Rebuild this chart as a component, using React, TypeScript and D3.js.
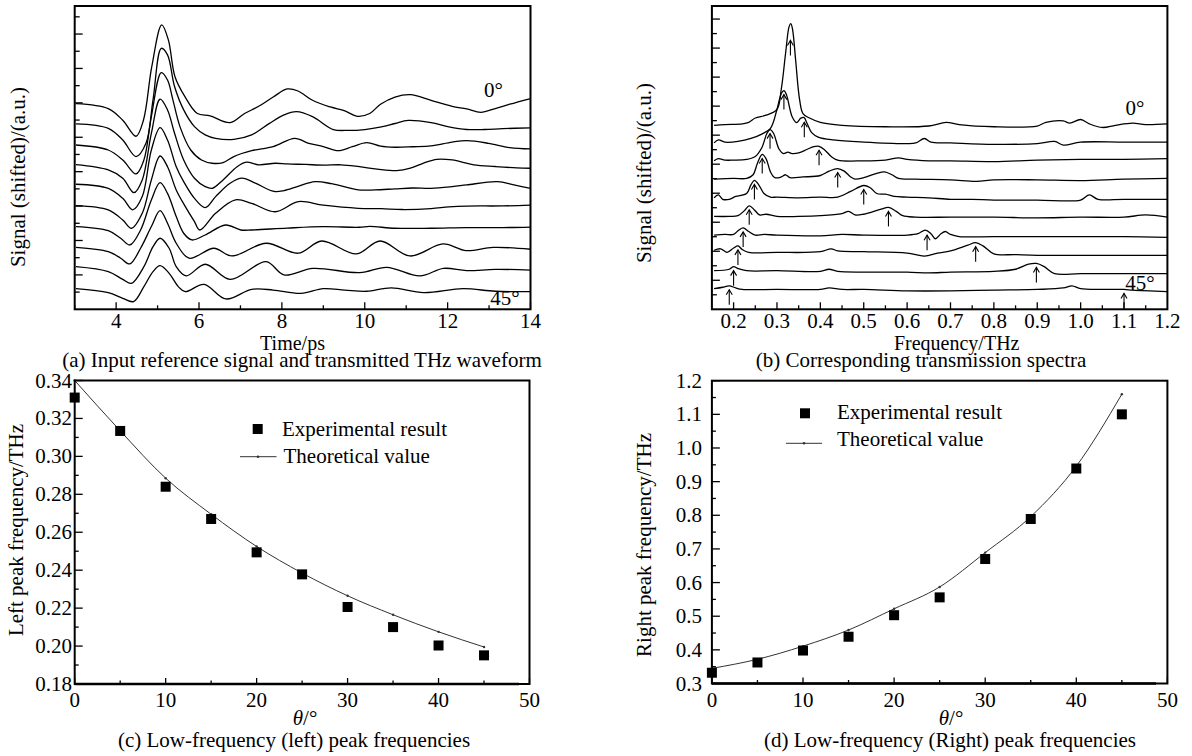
import React from 'react';
import * as d3 from 'd3';

const FONT = '"Liberation Serif", "Times New Roman", Times, serif';
const FS = 21;

// ---------- Panel (a): time-domain waveforms [t (ps), signal (a.u., shifted)] ----------
const angleLabels = ['0°', '5°', '10°', '15°', '20°', '25°', '30°', '35°', '40°', '45°'];
const waveform0 = [[3.03,11.96],[3.81,11.67],[4.16,10.99],[4.48,10.06],[4.66,11.0],[4.86,14.1],[5.10,16.53],[5.26,15.66],[5.42,13.52],[5.66,12.36],[5.95,11.40],[6.27,11.24],[6.75,10.85],[7.10,11.38],[7.44,11.80],[7.79,12.34],[8.13,12.81],[8.39,12.69],[8.74,12.15],[9.17,11.76],[9.52,11.53],[9.82,11.22],[10.12,11.38],[10.38,11.92],[10.73,12.34],[11.10,12.48],[11.60,12.15],[12.11,11.80],[12.46,11.65],[12.80,11.45],[13.15,11.67],[13.50,11.92],[14.0,12.25]];
const waveform5 = [[3.03,10.78],[3.81,10.52],[4.16,9.84],[4.48,8.88],[4.72,9.65],[4.89,12.17],[5.09,15.17],[5.24,14.79],[5.41,12.95],[5.63,11.59],[5.89,10.62],[6.15,10.14],[6.40,9.94],[6.84,9.88],[7.27,10.14],[7.70,10.81],[8.05,11.30],[8.35,11.49],[8.74,11.20],[9.24,10.45],[9.60,10.40],[10.0,10.45],[10.40,10.6],[10.73,10.80],[11.05,10.98],[11.60,10.85],[12.03,10.6],[12.46,10.45],[12.89,10.45],[13.33,10.5],[14.0,10.55]];
const waveform10 = [[3.03,9.55],[3.81,9.26],[4.16,8.68],[4.48,7.87],[4.67,8.68],[4.85,11.20],[5.09,13.76],[5.24,13.33],[5.37,12.17],[5.54,10.62],[5.80,9.26],[6.06,8.68],[6.32,8.49],[6.58,8.53],[6.84,8.88],[7.27,9.22],[7.79,9.46],[8.31,9.94],[8.65,9.65],[9.00,9.46],[9.36,9.22],[9.70,9.45],[10.05,9.69],[10.38,9.48],[10.73,9.42],[11.16,9.45],[11.60,9.50],[12.11,9.72],[12.46,9.80],[12.98,9.65],[13.50,9.40],[14.0,9.32]];
const waveform15 = [[3.03,8.41],[3.81,8.10],[4.16,7.62],[4.43,6.78],[4.63,7.52],[4.85,10.23],[5.06,12.21],[5.24,11.59],[5.41,10.23],[5.63,8.68],[5.89,7.62],[6.15,7.13],[6.32,7.03],[6.58,7.52],[6.92,8.29],[7.14,8.55],[7.44,8.40],[7.84,8.49],[8.13,8.45],[8.57,8.42],[9.00,8.38],[9.43,8.40],[9.87,8.29],[10.30,8.15],[10.77,8.06],[11.10,8.20],[11.42,8.50],[11.74,8.72],[12.11,8.68],[12.63,8.40],[13.15,8.30],[13.67,8.22],[14.0,8.2]];
const waveform20 = [[3.03,7.27],[3.81,7.03],[4.16,6.45],[4.40,5.78],[4.63,6.55],[4.85,9.26],[5.06,10.56],[5.24,9.84],[5.45,8.29],[5.63,7.42],[5.89,6.45],[6.15,5.91],[6.40,6.55],[6.75,7.33],[7.04,7.62],[7.36,7.33],[7.81,6.85],[8.05,6.90],[8.39,7.15],[8.80,7.42],[9.20,7.30],[9.84,6.94],[10.25,6.94],[10.73,7.0],[11.16,7.05],[11.60,7.03],[12.11,7.13],[12.46,7.23],[13.20,7.42],[13.60,7.23],[14.0,7.03]];
const waveform25 = [[3.03,6.03],[3.81,5.78],[4.16,5.19],[4.37,4.71],[4.63,5.58],[4.85,7.52],[5.06,8.91],[5.24,8.29],[5.45,6.94],[5.67,5.97],[5.89,5.10],[6.02,4.61],[6.40,5.58],[6.88,6.36],[7.27,6.16],[7.84,5.67],[8.40,6.26],[9.00,6.05],[9.84,5.87],[10.40,5.85],[10.90,5.80],[11.60,5.85],[12.03,5.95],[12.46,6.0],[13.33,6.01],[14.0,6.06]];
const waveform30 = [[3.03,4.81],[3.81,4.57],[4.11,4.13],[4.33,3.74],[4.59,4.61],[4.85,6.36],[5.06,7.36],[5.24,6.74],[5.45,5.39],[5.63,4.42],[5.83,4.03],[6.15,4.32],[6.64,4.90],[7.01,4.61],[7.27,4.61],[8.13,4.72],[9.00,4.80],[9.87,4.77],[10.12,4.82],[10.73,4.71],[11.60,4.71],[12.46,4.75],[13.33,4.75],[14.0,4.78]];
const waveform35 = [[3.03,3.60],[3.81,3.35],[4.11,2.97],[4.33,2.64],[4.59,3.55],[4.85,4.81],[5.06,5.74],[5.24,5.00],[5.45,3.84],[5.76,2.97],[6.36,3.55],[6.79,3.10],[7.62,3.84],[8.39,3.26],[8.96,3.97],[9.80,3.22],[10.37,3.97],[11.09,3.10],[11.89,3.80],[12.45,3.41],[13.10,3.60],[14.0,3.49]];
const waveform40 = [[3.03,2.48],[3.81,2.19],[4.16,1.74],[4.37,1.51],[4.67,2.48],[4.89,3.64],[5.06,4.13],[5.28,3.55],[5.45,2.48],[5.69,1.94],[6.15,2.62],[6.75,1.74],[7.62,2.77],[8.05,2.0],[8.75,2.38],[9.88,2.13],[10.53,2.44],[11.33,1.94],[11.90,2.38],[12.46,2.25],[13.15,2.32],[14.0,2.28]];
const waveform45 = [[3.03,1.20],[3.81,0.97],[4.16,0.64],[4.42,0.45],[4.67,1.32],[4.89,2.19],[5.06,2.54],[5.28,2.09],[5.50,1.32],[5.67,1.03],[6.12,1.45],[6.65,0.60],[7.27,1.16],[7.79,1.12],[8.46,0.93],[9.0,1.20],[9.52,1.12],[10.04,1.05],[10.64,1.25],[11.42,0.97],[12.37,1.20],[13.15,1.05],[14.0,1.03]];
const waveforms = [waveform0, waveform5, waveform10, waveform15, waveform20, waveform25, waveform30, waveform35, waveform40, waveform45];
const timeTickLabels = [4, 6, 8, 10, 12, 14];

// ---------- Panel (b): spectra [f (THz), height above baseline (a.u.)] ----------
const spectrumBaselines = [12.68, 11.47, 10.23, 8.97, 7.68, 6.40, 5.11, 3.97, 2.66, 1.42];
const spectrum0 = [[0.155,0],[0.18,0.05],[0.22,0.1],[0.235,0.2],[0.25,0.5],[0.275,0.7],[0.3,1.1],[0.31,2.5],[0.32,5.0],[0.328,6.8],[0.332,7.0],[0.336,6.6],[0.343,4.5],[0.352,1.8],[0.36,0.8],[0.375,0.5],[0.4,0.2],[0.45,0.0],[0.55,-0.1],[0.65,-0.05],[0.69,0.2],[0.72,0.05],[0.8,-0.1],[0.9,-0.05],[0.92,0.2],[0.96,0.3],[0.975,0.15],[1.0,0.4],[1.02,0.1],[1.05,-0.15],[1.08,0.0],[1.12,0.15],[1.15,0.05],[1.2,0.1]];
const spectrum5 = [[0.155,0],[0.165,0.2],[0.18,0.05],[0.21,0.1],[0.24,0.3],[0.265,0.6],[0.285,1.0],[0.3,2.3],[0.31,3.4],[0.316,3.6],[0.322,3.3],[0.335,1.8],[0.345,1.4],[0.355,1.7],[0.362,1.75],[0.37,1.3],[0.38,0.7],[0.395,0.4],[0.43,0.2],[0.5,0.05],[0.6,-0.05],[0.62,0.0],[0.64,0.3],[0.655,0.05],[0.7,0.0],[0.8,-0.1],[0.9,-0.05],[0.94,0.1],[0.96,-0.15],[1.0,0.05],[1.1,0.05],[1.2,0.05]];
const spectrum10 = [[0.155,0],[0.165,0.15],[0.18,0.05],[0.2,0.05],[0.23,0.1],[0.25,0.3],[0.265,0.9],[0.277,1.9],[0.284,2.15],[0.292,1.9],[0.305,0.8],[0.315,0.5],[0.325,0.6],[0.335,0.5],[0.35,0.55],[0.37,0.8],[0.385,0.98],[0.397,1.0],[0.41,0.75],[0.425,0.3],[0.44,0.05],[0.5,0.0],[0.55,0.05],[0.58,0.2],[0.6,0.1],[0.65,0.0],[0.7,0.0],[0.8,-0.05],[0.9,0.05],[1.0,0.1],[1.1,0.1],[1.2,0.15]];
const spectrum15 = [[0.155,0],[0.2,0.05],[0.23,0.05],[0.245,0.3],[0.255,1.1],[0.266,1.7],[0.275,1.4],[0.285,0.5],[0.295,0.1],[0.31,0.15],[0.32,0.3],[0.33,0.1],[0.36,0.15],[0.4,0.25],[0.42,0.55],[0.44,0.73],[0.455,0.55],[0.47,0.15],[0.48,0.0],[0.5,0.1],[0.53,0.4],[0.548,0.5],[0.565,0.3],[0.58,0.05],[0.62,0.0],[0.7,-0.05],[0.76,-0.15],[0.8,-0.05],[0.9,-0.05],[1.0,-0.1],[1.1,0.0],[1.2,0.05]];
const spectrum20 = [[0.155,0],[0.165,0.2],[0.175,-0.1],[0.19,-0.1],[0.205,0.1],[0.23,0.3],[0.24,0.9],[0.248,1.2],[0.258,0.9],[0.27,0.3],[0.285,0.05],[0.3,0.05],[0.35,0.0],[0.4,0.05],[0.44,0.05],[0.47,0.45],[0.5,0.85],[0.515,0.7],[0.53,0.3],[0.55,0.25],[0.57,0.1],[0.6,0.05],[0.65,0.0],[0.7,-0.1],[0.75,-0.1],[0.8,-0.15],[0.9,-0.15],[1.0,-0.15],[1.02,0.2],[1.04,-0.1],[1.1,-0.1],[1.2,-0.1]];
const spectrum25 = [[0.155,0],[0.19,0.0],[0.21,0.05],[0.225,0.4],[0.236,0.73],[0.248,0.45],[0.26,0.1],[0.275,0.15],[0.3,0.0],[0.35,0.0],[0.4,0.05],[0.45,0.2],[0.465,0.35],[0.48,0.1],[0.5,0.15],[0.54,0.5],[0.557,0.62],[0.575,0.35],[0.59,0.05],[0.62,-0.05],[0.7,-0.05],[0.8,-0.05],[0.9,-0.1],[1.0,-0.05],[1.1,-0.05],[1.15,0.1],[1.2,-0.05]];
const spectrum30 = [[0.155,0],[0.18,0.05],[0.2,0.05],[0.212,0.35],[0.222,0.5],[0.235,0.25],[0.25,0.0],[0.27,0.05],[0.3,0.0],[0.4,-0.05],[0.45,0.05],[0.5,0.0],[0.6,0.0],[0.625,0.1],[0.642,0.35],[0.655,0.1],[0.665,-0.25],[0.678,0.1],[0.688,0.25],[0.7,0.05],[0.72,-0.1],[0.8,-0.1],[0.9,-0.1],[1.0,-0.1],[1.1,-0.1],[1.2,-0.15]];
const spectrum35 = [[0.155,0.1],[0.17,0.2],[0.185,-0.05],[0.2,0.25],[0.21,0.4],[0.22,0.15],[0.235,-0.05],[0.3,-0.05],[0.4,0.0],[0.425,0.2],[0.44,0.05],[0.5,0.0],[0.6,-0.1],[0.64,-0.3],[0.67,-0.1],[0.7,0.05],[0.74,0.45],[0.758,0.62],[0.775,0.4],[0.8,-0.15],[0.85,-0.2],[0.9,-0.25],[1.0,-0.25],[1.1,-0.25],[1.2,-0.25]];
const spectrum40 = [[0.155,0],[0.19,0.1],[0.2,0.28],[0.21,0.15],[0.23,0.0],[0.3,0.0],[0.4,-0.05],[0.42,0.1],[0.44,-0.05],[0.5,-0.1],[0.6,-0.1],[0.65,-0.15],[0.7,-0.1],[0.8,-0.05],[0.85,0.1],[0.88,0.45],[0.898,0.5],[0.915,0.3],[0.94,-0.2],[1.0,-0.2],[1.1,-0.2],[1.2,-0.2]];
const spectrum45 = [[0.155,0],[0.175,0.1],[0.19,0.2],[0.205,0.05],[0.22,-0.05],[0.3,-0.05],[0.4,-0.05],[0.42,0.05],[0.45,-0.05],[0.5,-0.05],[0.6,-0.15],[0.7,-0.15],[0.8,-0.1],[0.9,-0.05],[0.96,0.05],[0.98,0.2],[1.0,0.0],[1.05,-0.05],[1.1,-0.05],[1.12,-0.1],[1.2,-0.2]];
const spectra = [spectrum0, spectrum5, spectrum10, spectrum15, spectrum20, spectrum25, spectrum30, spectrum35, spectrum40, spectrum45];
const leftPeakArrows = [0.331, 0.316, 0.284, 0.266, 0.248, 0.236, 0.222, 0.21, 0.2, 0.19];
const rightPeakArrows = [null, 0.363, 0.397, 0.44, 0.5, 0.557, 0.646, 0.758, 0.898, 1.1];
const freqTickLabels = ['0.2', '0.3', '0.4', '0.5', '0.6', '0.7', '0.8', '0.9', '1.0', '1.1', '1.2'];

// ---------- Panels (c), (d) ----------
const thetaValues = [0, 5, 10, 15, 20, 25, 30, 35, 40, 45];
const leftPeakExperimental = [0.331, 0.3134, 0.284, 0.267, 0.2494, 0.2378, 0.2206, 0.21, 0.2003, 0.1951];
const leftPeakTheoretical = [0.340, 0.3135, 0.2885, 0.2695, 0.2525, 0.2385, 0.2265, 0.2165, 0.2075, 0.1995];
const rightPeakExperimental = [0.332, 0.3625, 0.398, 0.439, 0.503, 0.556, 0.670, 0.789, 0.939, 1.100];
const rightPeakTheoretical = [0.345, 0.372, 0.411, 0.459, 0.522, 0.587, 0.689, 0.796, 0.946, 1.160];
const thetaTickLabels = [0, 10, 20, 30, 40, 50];
const leftTickLabels = ['0.18', '0.20', '0.22', '0.24', '0.26', '0.28', '0.30', '0.32', '0.34'];
const rightTickLabels = ['0.3', '0.4', '0.5', '0.6', '0.7', '0.8', '0.9', '1.0', '1.1', '1.2'];

const T = (p: any) => <text fontFamily={FONT} fontSize={FS} fill="#000" {...p} />;

function interp(pts: number[][], f: number) {
  for (let i = 0; i < pts.length - 1; i++) {
    if (f >= pts[i][0] && f <= pts[i + 1][0]) {
      const k = (f - pts[i][0]) / (pts[i + 1][0] - pts[i][0]);
      return pts[i][1] + k * (pts[i + 1][1] - pts[i][1]);
    }
  }
  return pts[pts.length - 1][1];
}

function Arrow({ x, y }: { x: number; y: number }) {
  return (
    <g stroke="#000" strokeWidth={1.1} fill="none">
      <line x1={x} y1={y} x2={x} y2={y + 15} />
      <path d={`M${x - 3},${y + 5} L${x},${y} L${x + 3},${y + 5}`} />
    </g>
  );
}

export default function App() {
  // Panel (a)
  const ax = d3.scaleLinear().domain([3, 14]).range([74.7, 530.5]);
  const ay = d3.scaleLinear().domain([0, 17.63]).range([309.3, 6]);
  const aLine = d3.line<number[]>().x(d => ax(d[0])).y(d => ay(d[1])).curve(d3.curveCatmullRom.alpha(0.5));

  // Panel (b)
  const bx = d3.scaleLinear().domain([0.15, 1.2]).range([711.9, 1167.4]);
  const by = d3.scaleLinear().domain([0, 20.9]).range([309.3, 6]);

  // Panel (c)
  const cx = d3.scaleLinear().domain([0, 50]).range([74.7, 529.5]);
  const cy = d3.scaleLinear().domain([0.18, 0.34]).range([684, 380.5]);
  // Panel (d)
  const dx = d3.scaleLinear().domain([0, 50]).range([711.9, 1167.4]);
  const dy = d3.scaleLinear().domain([0.3, 1.2]).range([683.5, 380.7]);

  const frame = (x0: number, x1: number, y0: number, y1: number) => (
    <rect x={x0} y={y0} width={x1 - x0} height={y1 - y0} fill="none" stroke="#000" strokeWidth={2} />
  );

  const theoryLine = (xs: any, ys: any, vals: number[]) =>
    d3.line<number>().x((_, i) => xs(thetaValues[i])).y(d => ys(d)).curve(d3.curveMonotoneX)(vals) as string;

  return (
    <svg width={1192} height={756} style={{ position: 'absolute', left: 0, top: 0, background: '#fff' }}>
      <rect x={0} y={0} width={1192} height={756} fill="#fff" />

      {/* ===== Panel (a) ===== */}
      <g>
        {d3.range(3, 14.01, 1).map(v => (
          <line key={'axt' + v} x1={ax(v)} x2={ax(v)} y1={309.3} y2={309.3 - (v % 2 === 0 ? 7 : 4)} stroke="#000" strokeWidth={1.3} />
        ))}
        {d3.range(1, 18, 1).map(v => (
          <line key={'ayt' + v} x1={74.7} x2={74.7 + (v % 2 === 0 ? 8 : 5)} y1={ay(v)} y2={ay(v)} stroke="#000" strokeWidth={1.3} />
        ))}
        {waveforms.map((w, i) => (
          <path key={'wf' + i} d={aLine(w) as string} fill="none" stroke="#000" strokeWidth={1.3} />
        ))}
        {frame(74.7, 530.5, 6, 309.3)}
        {timeTickLabels.map(v => (
          <T key={'atl' + v} x={ax(v)} y={328} textAnchor="middle">{v}</T>
        ))}
        <T x={493.5} y={97} textAnchor="middle">{angleLabels[0]}</T>
        <T x={505} y={305} textAnchor="middle">{angleLabels[9]}</T>
        <T x={292.5} y={349.5} textAnchor="middle" fontSize={20}>Time/ps</T>
        <T transform="translate(25,177) rotate(-90)" textAnchor="middle">Signal (shifted)/(a.u.)</T>
        <T x={302} y={367} textAnchor="middle">(a) Input reference signal and transmitted THz waveform</T>
      </g>

      {/* ===== Panel (b) ===== */}
      <g>
        {d3.range(0, 21, 1).map(i => {
          const v = 0.15 + i * 0.05;
          if (v > 1.2001 || i === 0) return null;
          const major = i % 2 === 1;
          return <line key={'bxt' + i} x1={bx(v)} x2={bx(v)} y1={309.3} y2={309.3 - (major ? 7 : 4)} stroke="#000" strokeWidth={1.3} />;
        })}
        {d3.range(1, 21, 1).map(v => (
          <line key={'byt' + v} x1={711.9} x2={711.9 + (v % 2 === 0 ? 8 : 5)} y1={by(v)} y2={by(v)} stroke="#000" strokeWidth={1.3} />
        ))}
        {spectra.map((s, i) => {
          const base = spectrumBaselines[i];
          const l = d3.line<number[]>().x(d => bx(d[0])).y(d => by(base + d[1])).curve(d3.curveCatmullRom.alpha(0.5));
          return <path key={'sp' + i} d={l(s) as string} fill="none" stroke="#000" strokeWidth={1.3} />;
        })}
        {leftPeakArrows.map((f, i) => {
          const dv = interp(spectra[i], f);
          const y = by(spectrumBaselines[i] + dv) + (dv > 5 ? 16 : 4);
          return <Arrow key={'la' + i} x={bx(f)} y={y} />;
        })}
        {rightPeakArrows.map((f, i) => {
          if (f === null) return null;
          const dv = interp(spectra[i], f);
          const y = by(spectrumBaselines[i] + dv) + 4;
          return <Arrow key={'ra' + i} x={bx(f)} y={y} />;
        })}
        {frame(711.9, 1167.4, 6, 309.3)}
        {freqTickLabels.map(v => (
          <T key={'btl' + v} x={bx(+v)} y={328} textAnchor="middle">{v}</T>
        ))}
        <T x={1135} y={115} textAnchor="middle">{angleLabels[0]}</T>
        <T x={1140} y={290} textAnchor="middle">{angleLabels[9]}</T>
        <T x={956.7} y={349.5} textAnchor="middle" fontSize={20}>Frequency/THz</T>
        <T transform="translate(651,173) rotate(-90)" textAnchor="middle">Signal (shifted)/(a.u.)</T>
        <T x={921} y={367} textAnchor="middle">(b) Corresponding transmission spectra</T>
      </g>

      {/* ===== Panel (c) ===== */}
      <g>
        {d3.range(0, 50.01, 5).map(v => (
          <line key={'cxt' + v} x1={cx(v)} x2={cx(v)} y1={684} y2={684 - (v % 10 === 0 ? 6 : 3.5)} stroke="#000" strokeWidth={1.3} />
        ))}
        {d3.range(0, 17, 1).map(i => {
          const v = 0.18 + i * 0.01;
          return <line key={'cyt' + i} x1={74.7} x2={74.7 + (i % 2 === 0 ? 8 : 4)} y1={cy(v)} y2={cy(v)} stroke="#000" strokeWidth={1.3} />;
        })}
        <path d={theoryLine(cx, cy, leftPeakTheoretical)} fill="none" stroke="#333" strokeWidth={1} />
        {leftPeakTheoretical.map((v, i) => (
          <circle key={'ctd' + i} cx={cx(thetaValues[i])} cy={cy(v)} r={1.2} fill="#333" />
        ))}
        {leftPeakExperimental.map((v, i) => (
          <rect key={'ce' + i} x={cx(thetaValues[i]) - 5} y={cy(v) - 5} width={10} height={10} fill="#000" />
        ))}
        {frame(74.7, 529.5, 380.5, 684)}
        <line x1={74.7} x2={519} y1={684} y2={684} stroke="#000" strokeWidth={2.6} />
        {leftTickLabels.map(v => (
          <T key={'cyl' + v} x={72} y={cy(+v) + 7} textAnchor="end">{v}</T>
        ))}
        {thetaTickLabels.map(v => (
          <T key={'cxl' + v} x={cx(v)} y={707} textAnchor="middle">{v}</T>
        ))}
        <rect x={252.7} y={424} width={10} height={10} fill="#000" />
        <T x={282} y={436}>Experimental result</T>
        <line x1={240} x2={276.5} y1={456.7} y2={456.7} stroke="#333" strokeWidth={1} />
        <circle cx={258} cy={456.7} r={1.3} fill="#333" />
        <T x={283.5} y={463}>Theoretical value</T>
        <T x={305} y={725} textAnchor="middle"><tspan fontStyle="italic">θ</tspan>/°</T>
        <T transform="translate(23,530) rotate(-90)" textAnchor="middle">Left peak frequency/THz</T>
        <T x={294} y={747} textAnchor="middle">(c) Low-frequency (left) peak frequencies</T>
      </g>

      {/* ===== Panel (d) ===== */}
      <g>
        {d3.range(0, 50.01, 5).map(v => (
          <line key={'dxt' + v} x1={dx(v)} x2={dx(v)} y1={683.5} y2={683.5 - (v % 10 === 0 ? 6 : 3.5)} stroke="#000" strokeWidth={1.3} />
        ))}
        {d3.range(0, 19, 1).map(i => {
          const v = 0.3 + i * 0.05;
          return <line key={'dyt' + i} x1={711.9} x2={711.9 + (i % 2 === 0 ? 8 : 4)} y1={dy(v)} y2={dy(v)} stroke="#000" strokeWidth={1.3} />;
        })}
        <path d={theoryLine(dx, dy, rightPeakTheoretical)} fill="none" stroke="#333" strokeWidth={1} />
        {rightPeakTheoretical.map((v, i) => (
          <circle key={'dtd' + i} cx={dx(thetaValues[i])} cy={dy(v)} r={1.2} fill="#333" />
        ))}
        {rightPeakExperimental.map((v, i) => (
          <rect key={'de' + i} x={dx(thetaValues[i]) - 5} y={dy(v) - 5} width={10} height={10} fill="#000" />
        ))}
        {frame(711.9, 1167.4, 380.7, 683.5)}
        <line x1={711.9} x2={1156} y1={683.5} y2={683.5} stroke="#000" strokeWidth={2.6} />
        {rightTickLabels.map(v => (
          <T key={'dyl' + v} x={702} y={dy(+v) + 7} textAnchor="end">{v}</T>
        ))}
        {thetaTickLabels.map(v => (
          <T key={'dxl' + v} x={dx(v)} y={707} textAnchor="middle">{v}</T>
        ))}
        <rect x={800} y={408.3} width={10} height={10} fill="#000" />
        <T x={837} y={419}>Experimental result</T>
        <line x1={786} x2={822} y1={443.3} y2={443.3} stroke="#333" strokeWidth={1} />
        <circle cx={804} cy={443.3} r={1.3} fill="#333" />
        <T x={837} y={446}>Theoretical value</T>
        <T x={951} y={725} textAnchor="middle"><tspan fontStyle="italic">θ</tspan>/°</T>
        <T transform="translate(651,545) rotate(-90)" textAnchor="middle">Right peak frequency/THz</T>
        <T x={950} y={747} textAnchor="middle">(d) Low-frequency (Right) peak frequencies</T>
      </g>
    </svg>
  );
}
